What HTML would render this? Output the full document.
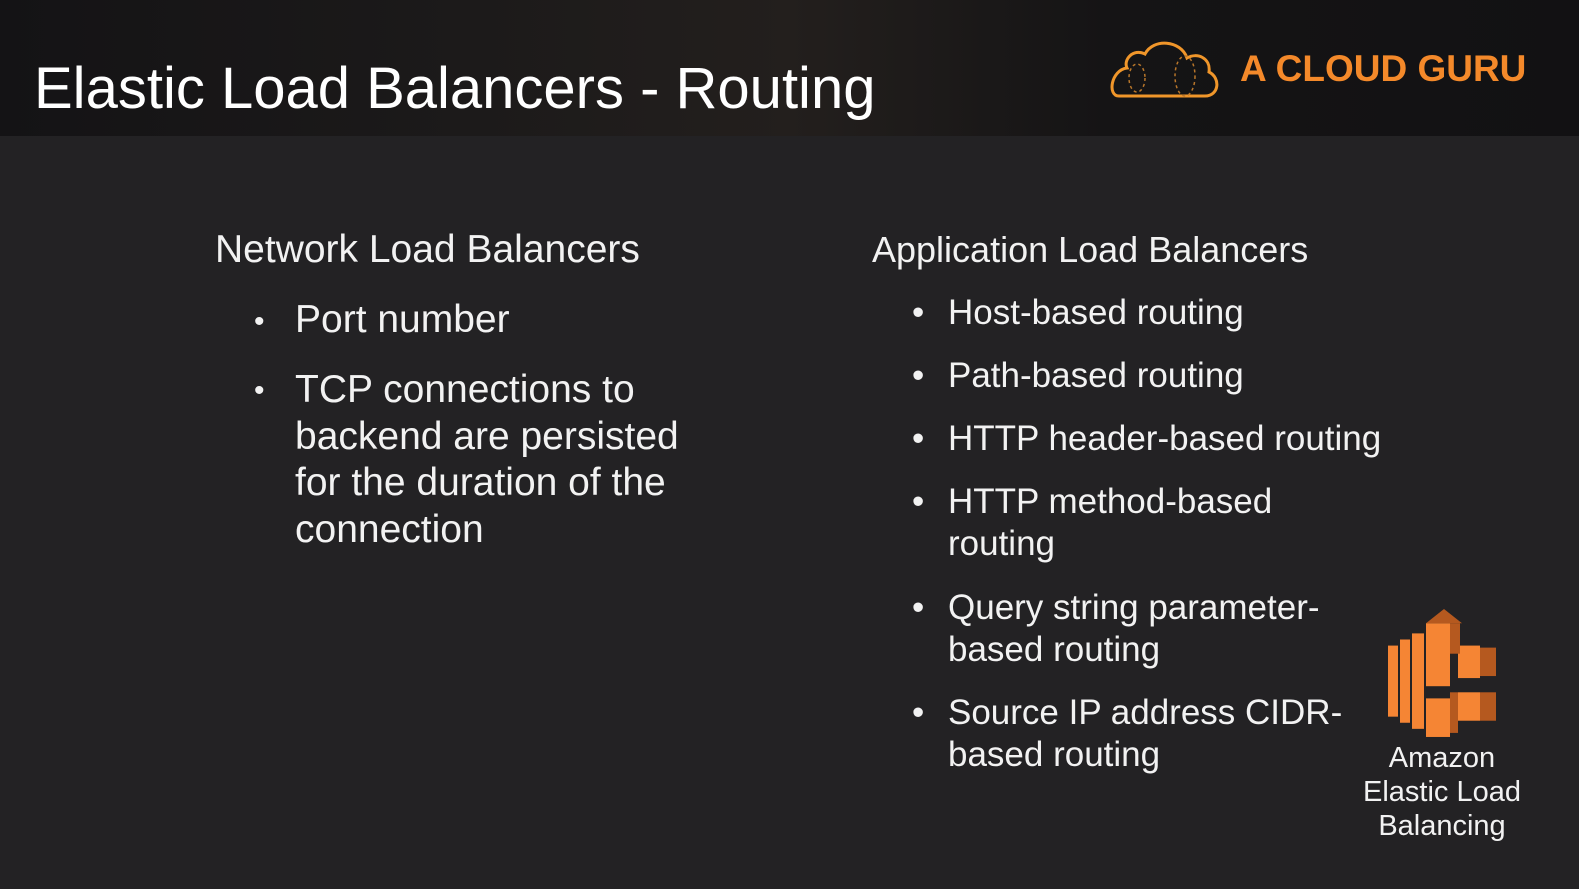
<!DOCTYPE html>
<html><head><meta charset="utf-8"><style>
*{margin:0;padding:0;box-sizing:border-box}
body{width:1579px;height:889px;background:#232224;position:relative;overflow:hidden;font-family:"Liberation Sans",sans-serif;color:#f2f2f2}
.hdr{position:absolute;left:0;top:0;width:1579px;height:136px;background:linear-gradient(90deg,#141315 0%,#1c1a1a 30%,#231f1d 50%,#151415 70%,#121113 100%)}
.t{position:absolute;white-space:nowrap}
.b{position:absolute;font-size:30px}
</style></head><body>
<div class="hdr"></div>
<div class="t" style="left:34px;top:55px;font-size:58px;color:#fff">Elastic Load Balancers - Routing</div>
<svg class="t" style="left:1107px;top:38px" width="115" height="64" viewBox="0 0 115 64">
<path d="M12 58 H98 C112 58 114 40 102 34 C104 20 90 14 80 20 C74 2 46 0 38 16 C26 10 16 22 20 30 C4 32 0 58 12 58 Z" fill="none" stroke="#f0962a" stroke-width="3"/>
<ellipse cx="30" cy="40" rx="8" ry="14" fill="none" stroke="#b8762a" stroke-width="1.5" stroke-dasharray="3 3"/>
<ellipse cx="78" cy="38" rx="10" ry="20" fill="none" stroke="#b8762a" stroke-width="1.5" stroke-dasharray="3 3"/>
</svg>
<div class="t" style="left:1240px;top:48px;font-size:37px;font-weight:bold;color:#f4892a">A CLOUD GURU</div>

<div class="t" style="left:215px;top:228px;font-size:39px">Network Load Balancers</div>
<div class="b" style="left:254px;top:305px">•</div>
<div class="t" style="left:295px;top:298px;font-size:39px">Port number</div>
<div class="b" style="left:254px;top:374px">•</div>
<div class="t" style="left:295px;top:367px;font-size:39px;line-height:46.5px">TCP connections to<br>backend are persisted<br>for the duration of the<br>connection</div>

<div class="t" style="left:872px;top:229px;font-size:36px">Application Load Balancers</div>
<div style="position:absolute;left:912px;top:292px;font-size:35px;line-height:42px">
<div style="position:absolute;top:0">•</div><div style="position:absolute;left:36px;top:0;white-space:nowrap">Host-based routing</div>
<div style="position:absolute;top:63px">•</div><div style="position:absolute;left:36px;top:63px;white-space:nowrap">Path-based routing</div>
<div style="position:absolute;top:126px">•</div><div style="position:absolute;left:36px;top:126px;white-space:nowrap">HTTP header-based routing</div>
<div style="position:absolute;top:189px">•</div><div style="position:absolute;left:36px;top:189px;white-space:nowrap">HTTP method-based<br>routing</div>
<div style="position:absolute;top:295px">•</div><div style="position:absolute;left:36px;top:295px;white-space:nowrap">Query string parameter-<br>based routing</div>
<div style="position:absolute;top:400px">•</div><div style="position:absolute;left:36px;top:400px;white-space:nowrap">Source IP address CIDR-<br>based routing</div>
</div>

<svg class="t" style="left:1386px;top:607px" width="112" height="132" viewBox="0 0 112 130" preserveAspectRatio="none">
<g fill="#f58534">
<rect x="2" y="38" width="10" height="70"/><rect x="14" y="32" width="10" height="82"/><rect x="26" y="26" width="12" height="94"/>
<rect x="40" y="16" width="24" height="62"/><rect x="40" y="90" width="24" height="38"/>
<rect x="72" y="38" width="22" height="32"/><rect x="72" y="84" width="22" height="28"/>
</g>
<g fill="#b5591f"><path d="M40 16 L58 2 L76 16 Z"/><rect x="64" y="16" width="10" height="30"/><rect x="94" y="40" width="16" height="28"/><rect x="94" y="84" width="16" height="28"/><rect x="64" y="84" width="8" height="40"/></g>
</svg>
<div class="t" style="left:1343px;top:741px;width:198px;text-align:center;font-size:29px;line-height:34px">Amazon<br>Elastic Load<br>Balancing</div>
</body></html>
